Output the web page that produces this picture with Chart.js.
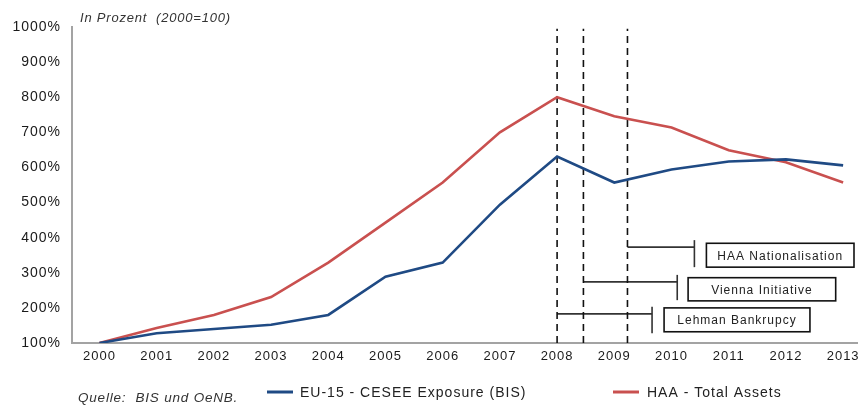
<!DOCTYPE html>
<html>
<head>
<meta charset="utf-8">
<script src="https://cdn.jsdelivr.net/npm/chart.js@4.4.1/dist/chart.umd.min.js"></script>
<style>
  html, body { margin: 0; padding: 0; background: #fff; }
  #wrap { width: 858px; height: 405px; position: relative; }
</style>
</head>
<body>
<div id="wrap"><canvas id="chart"></canvas></div>
<script>
const years = [2000, 2001, 2002, 2003, 2004, 2005, 2006, 2007, 2008, 2009, 2010, 2011, 2012, 2013];
const cesee = [100, 128, 140, 152, 180, 289, 329, 494, 631, 557, 594, 617, 623, 606];
const haa = [100, 143, 180, 231, 329, 443, 557, 700, 800, 746, 714, 649, 615, 557];
const yTicks = [100, 200, 300, 400, 500, 600, 700, 800, 900, 1000];
const eventYears = [2008, 2008.46, 2009.23];
const eventLabels = ['Lehman Bankrupcy', 'Vienna Initiative', 'HAA Nationalisation'];
const seriesNames = ['EU-15 - CESEE Exposure (BIS)', 'HAA - Total Assets'];

const BLUE = '#1f4a84';
const RED = '#c9504f';
const FONT = '"Liberation Sans", Arial, sans-serif';

// bracket geometry for each event: [end year, level, tick low, tick high]
const brackets = [
    [2009.66, 183, 128, 203],
    [2010.10, 274, 222, 294],
    [2010.40, 373, 316, 393]
];
// label boxes in data units: [left year, right year, bottom, top]
const boxes = [
    [2009.87, 2012.42, 132, 200],
    [2010.29, 2012.87, 220, 286],
    [2010.61, 2013.19, 316, 384]
];

const datasets = [
    { label: seriesNames[0], data: years.map((x, i) => ({ x, y: cesee[i] })), borderColor: BLUE, borderWidth: 2.6 },
    { label: seriesNames[1], data: years.map((x, i) => ({ x, y: haa[i] })), borderColor: RED, borderWidth: 2.6 }
];
eventYears.forEach(x => {
    datasets.push({ data: [{ x, y: 100 }, { x, y: 995 }], borderColor: '#111', borderWidth: 1.6, borderDash: [7, 5] });
});
brackets.forEach((b, i) => {
    datasets.push({ data: [{ x: eventYears[i], y: b[1] }, { x: b[0], y: b[1] }], borderColor: '#333', borderWidth: 1.6 });
    datasets.push({ data: [{ x: b[0], y: b[2] }, { x: b[0], y: b[3] }], borderColor: '#333', borderWidth: 1.6 });
});

// the source picture has wide text, so space the letters a bit
const spacing = {
    id: 'spacing',
    beforeLayout(chart) { chart.ctx.letterSpacing = '1px'; },
    beforeDraw(chart) { chart.ctx.letterSpacing = '1px'; }
};

const overlay = {
    id: 'overlay',
    afterDatasetsDraw(chart) {
        const ctx = chart.ctx;
        const xs = chart.scales.x, ys = chart.scales.y;
        ctx.save();
        // label boxes
        boxes.forEach((b, i) => {
            const l = xs.getPixelForValue(b[0]), r = xs.getPixelForValue(b[1]);
            const t = ys.getPixelForValue(b[3]), btm = ys.getPixelForValue(b[2]);
            ctx.fillStyle = '#fff';
            ctx.fillRect(l, t, r - l, btm - t);
            ctx.strokeStyle = '#111';
            ctx.lineWidth = 1.6;
            ctx.strokeRect(l, t, r - l, btm - t);
            ctx.fillStyle = '#222';
            ctx.font = '12px ' + FONT;
            ctx.textAlign = 'center';
            ctx.textBaseline = 'middle';
            ctx.fillText(eventLabels[i], (l + r) / 2, (t + btm) / 2 + 1);
        });
        // title
        ctx.textAlign = 'left';
        ctx.textBaseline = 'alphabetic';
        ctx.fillStyle = '#333';
        ctx.letterSpacing = '0.8px';
        ctx.font = 'italic 13px ' + FONT;
        ctx.fillText('In Prozent  (2000=100)', 80, 22);
        // source
        ctx.font = 'italic 13.5px ' + FONT;
        ctx.fillText('Quelle:  BIS und OeNB.', 78, 402);
        // legend
        ctx.letterSpacing = '1px';
        ctx.font = '14px ' + FONT;
        ctx.fillStyle = '#222';
        [[267, 300, BLUE], [613, 647, RED]].forEach((p, i) => {
            ctx.strokeStyle = p[2];
            ctx.lineWidth = 3;
            ctx.beginPath();
            ctx.moveTo(p[0], 392);
            ctx.lineTo(p[0] + 26, 392);
            ctx.stroke();
            ctx.fillText(seriesNames[i], p[1], 397);
        });
        ctx.restore();
    }
};

new Chart(document.getElementById('chart'), {
    type: 'line',
    data: { datasets },
    options: {
        responsive: true,
        maintainAspectRatio: false,
        animation: false,
        layout: { padding: { top: 27, right: 0, left: 0, bottom: 0 } },
        elements: { point: { radius: 0 }, line: { tension: 0, fill: false } },
        scales: {
            x: {
                type: 'linear',
                min: 1999.52,
                max: 2013.26,
                afterBuildTicks: s => { s.ticks = years.map(v => ({ value: v })); },
                afterFit: s => { s.height = 62; s.paddingLeft = 0; s.paddingRight = 0; },
                grid: { display: false, drawTicks: false },
                border: { display: true, color: '#a3a3a3', width: 2 },
                ticks: { color: '#1a1a1a', font: { family: FONT, size: 13 }, padding: 6, maxRotation: 0, autoSkip: false, callback: v => String(v) }
            },
            y: {
                min: 100,
                max: 1000,
                afterBuildTicks: s => { s.ticks = yTicks.map(v => ({ value: v })); },
                afterFit: s => { s.width = 72; },
                grid: { display: false, drawTicks: false },
                border: { display: true, color: '#a3a3a3', width: 2 },
                ticks: { color: '#1a1a1a', font: { family: FONT, size: 14 }, padding: 11, callback: v => v + '%' }
            }
        },
        plugins: { legend: { display: false }, tooltip: { enabled: false } }
    },
    plugins: [spacing, overlay]
});
</script>
</body>
</html>
